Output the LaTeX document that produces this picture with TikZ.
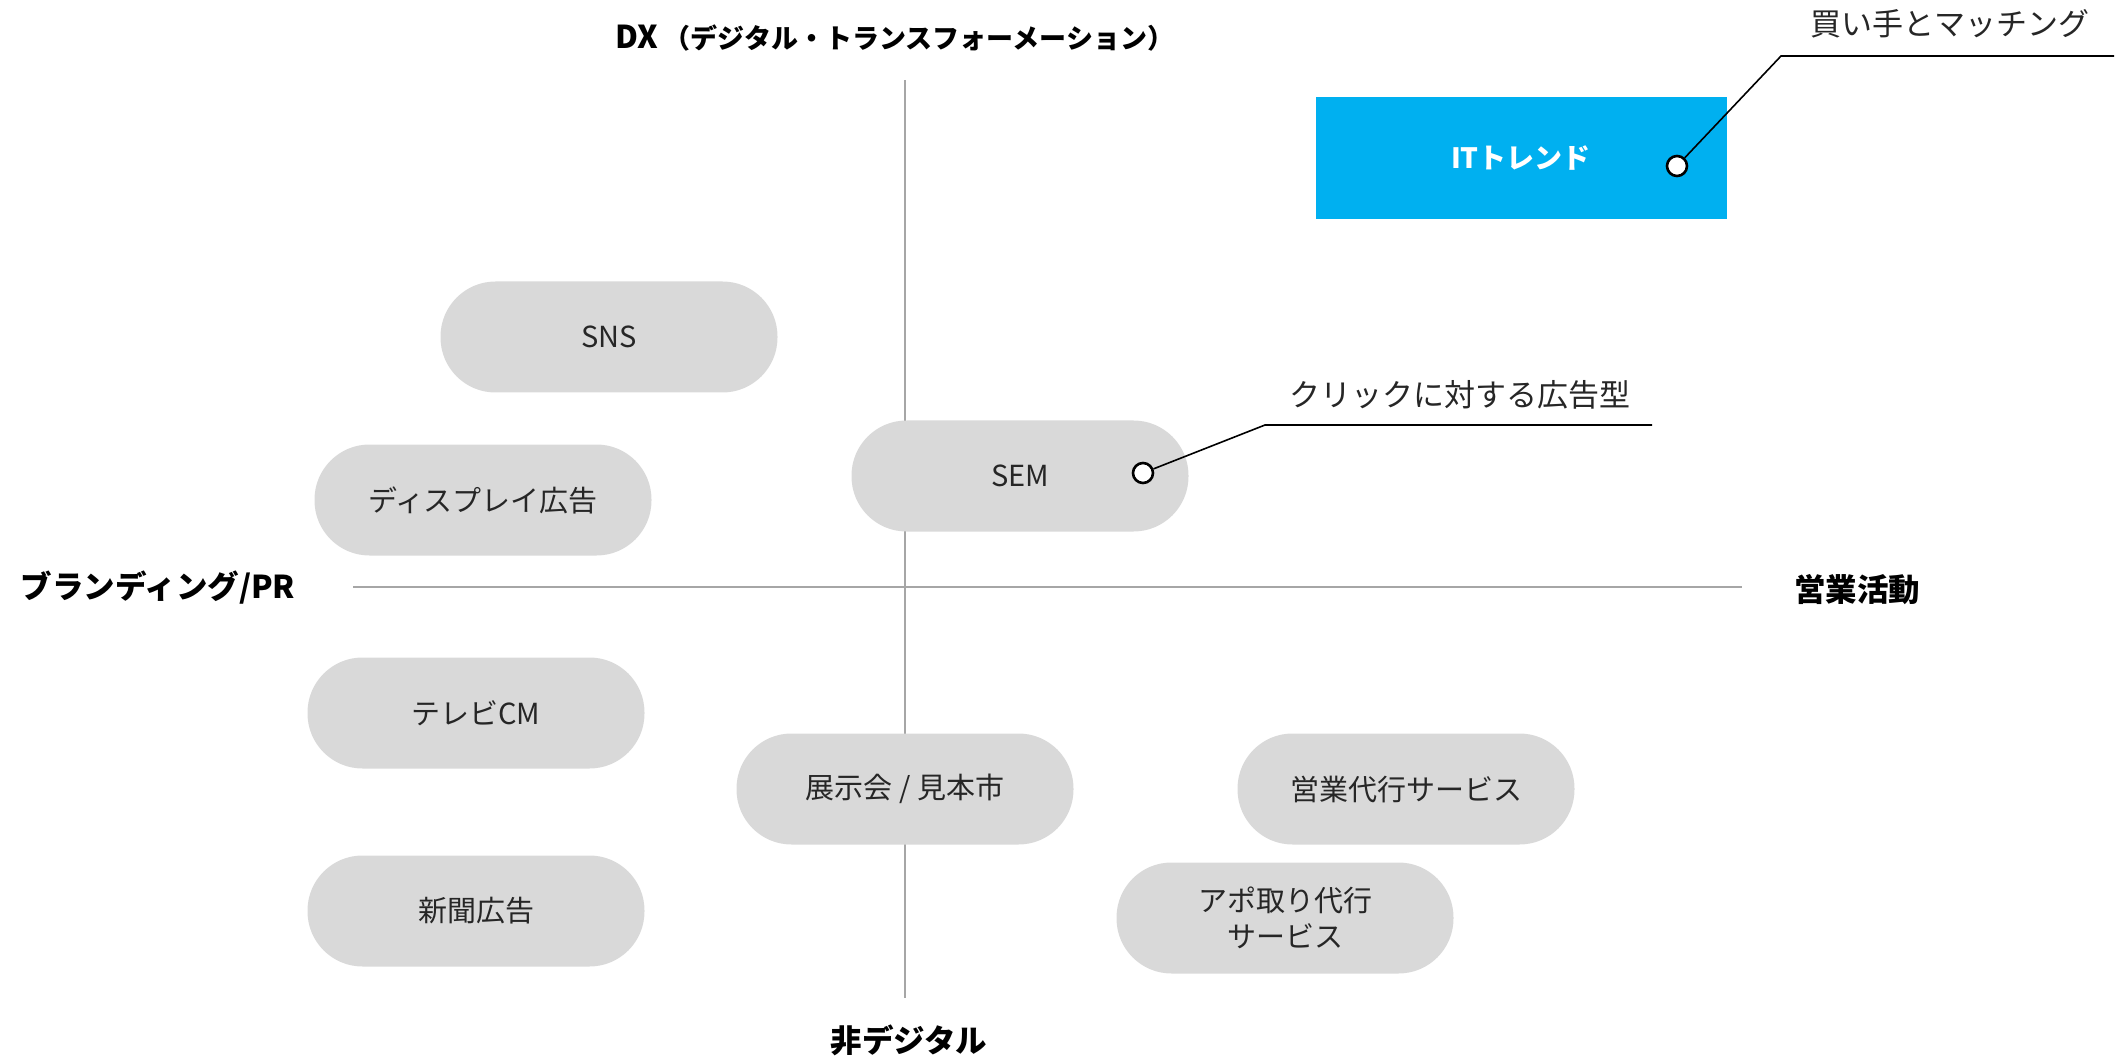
\documentclass[tikz,border=0pt]{standalone}
\usepackage{fontspec}
\setmainfont{Noto Sans CJK JP}
\definecolor{pillgray}{HTML}{D9D9D9}
\definecolor{itblue}{HTML}{00B0F0}
\definecolor{axisgray}{HTML}{A6A6A6}
\begin{document}
\begin{tikzpicture}[x=1pt,y=-1pt,
  pill/.style={rectangle, rounded corners=55pt, fill=pillgray, minimum width=337pt, minimum height=111pt, inner sep=0pt, font=\fontsize{29}{36}\selectfont, text=black!85},
  axisline/.style={draw=axisgray, line width=2pt},
  axlab/.style={inner sep=0pt, font=\fontsize{31.5}{36}\selectfont\bfseries},
  callabel/.style={inner sep=0pt, font=\fontsize{31}{36}\selectfont, text=black!85},
  calline/.style={draw=black, line width=1.6pt},
  dot/.style={circle, draw=black, line width=2.6pt, fill=white, minimum size=20pt, inner sep=0pt}]
\useasboundingbox (0,0) rectangle (2126,1056);
% axes
\coordinate (vtop) at (905,80);
\coordinate (vbot) at (905,998);
\coordinate (hl) at (353,587);
\coordinate (hr) at (1742,587);
\draw[axisline] (vtop) -- (vbot);
\draw[axisline] (hl) -- (hr);
% axis labels
\node[axlab] (dx) at (895,38) {DX\,{\fontsize{27}{30}\selectfont（デジタル・トランスフォーメーション）}};
\node[axlab] (nd) at (909,1040) {非デジタル};
\node[axlab] (br) at (158,588) {ブランディング/PR};
\node[axlab] (eg) at (1857,590) {営業活動};
% pills
\node[pill] (sns) at (609,337) {SNS};
\node[pill] (disp) at (483,500) {ディスプレイ広告};
\node[pill] (sem) at (1020,476) {SEM};
\node[pill] (tv) at (476,713) {テレビCM};
\node[pill] (expo) at (905,789) {展示会 / 見本市};
\node[pill] (sales) at (1406,789) {営業代行サービス};
\node[pill] (news) at (476,911) {新聞広告};
\node[pill, align=center] (appo) at (1285,918) {アポ取り代行\\サービス};
% IT box
\node[fill=itblue, minimum width=411pt, minimum height=122pt, inner sep=0pt, text=white, font=\fontsize{28}{34}\selectfont\bfseries] (it) at (1521,158) {ITトレンド};
% callouts
\node[dot] (d1) at (1677,166) {};
\coordinate (k1) at (1781,56);
\coordinate (e1) at (2114,56);
\draw[calline] (d1) -- (k1) -- (e1);
\node[callabel] (l1) at (1950,24) {買い手とマッチング};
\node[dot] (d2) at (1143,473) {};
\coordinate (k2) at (1265,425);
\coordinate (e2) at (1652,425);
\draw[calline] (d2) -- (k2) -- (e2);
\node[callabel] (l2) at (1460,395) {クリックに対する広告型};
\end{tikzpicture}
\end{document}
